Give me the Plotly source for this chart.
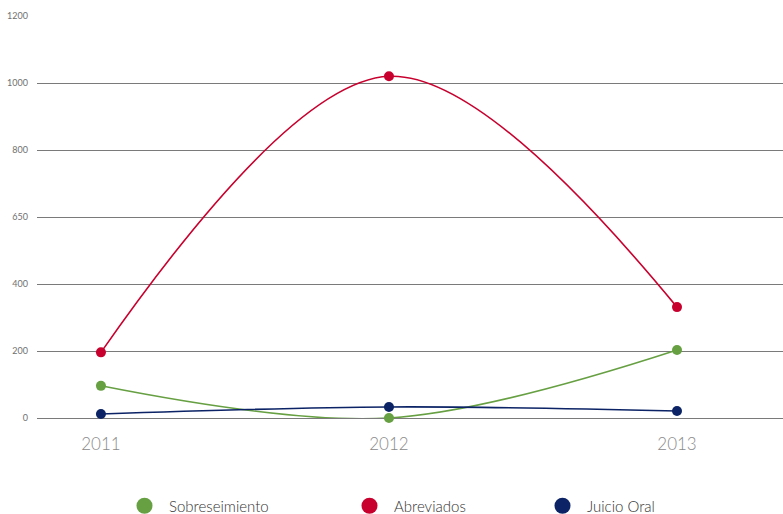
import plotly.graph_objects as go

years = ["2011", "2012", "2013"]
sobreseimiento = [96, 0, 203]
abreviados = [196, 1020, 331]
juicio_oral = [12, 33, 21]

y_tick_vals = [0, 200, 400, 600, 800, 1000, 1200]
y_tick_text = ["0", "200", "400", "650", "800", "1000", "1200"]

series = [
    ("Sobreseimiento", sobreseimiento, "#67a043", 143),
    ("Abreviados", abreviados, "#c8002e", 368),
    ("Juicio Oral", juicio_oral, "#0c2466", 561),
]

W, H = 783, 514
fig = go.Figure()

legend_keys = ["legend", "legend2", "legend3"]
for (name, vals, color, lx), lkey in zip(series, legend_keys):
    fig.add_trace(go.Scatter(
        x=years, y=vals, name=name, mode="lines+markers",
        line=dict(color=color, width=1.6, shape="spline", smoothing=1.0),
        marker=dict(color=color, size=10),
        cliponaxis=False, showlegend=False, hoverinfo="skip",
    ))
    # legend-only entry with a large dot
    fig.add_trace(go.Scatter(
        x=[None], y=[None], name=name, mode="markers",
        marker=dict(color=color, size=16),
        legend=lkey, showlegend=True,
    ))

legend_common = dict(
    orientation="h", xref="container", yref="container",
    xanchor="left", yanchor="middle", y=1 - 506 / H,
    font=dict(family="Lato", size=15, color="#333", weight=300),
    bgcolor="rgba(0,0,0,0)", itemsizing="trace", itemwidth=39,
)
layout_legends = {}
for (name, vals, color, lx), lkey in zip(series, legend_keys):
    layout_legends[lkey] = dict(legend_common, x=(lx - 23) / W)

fig.update_layout(
    width=W, height=H,
    margin=dict(l=37, r=0, t=16, b=96),
    plot_bgcolor="white", paper_bgcolor="white",
    xaxis=dict(
        type="category", range=[-0.222, 2.368],
        showgrid=False, zeroline=False, showline=False,
        tickfont=dict(family="Lato", size=17, color="#8a8a8a", weight=300),
        ticks="", ticklabelstandoff=14,
    ),
    yaxis=dict(
        range=[0, 1200], tickvals=y_tick_vals, ticktext=y_tick_text,
        showgrid=True, gridcolor="#7a7a7a", gridwidth=1,
        zeroline=True, zerolinecolor="#7a7a7a", zerolinewidth=1,
        showline=False, ticks="",
        tickfont=dict(family="Lato", size=9, color="#707070"),
        ticklabelstandoff=8,
    ),
    **layout_legends,
)

fig.write_html("out.html")
